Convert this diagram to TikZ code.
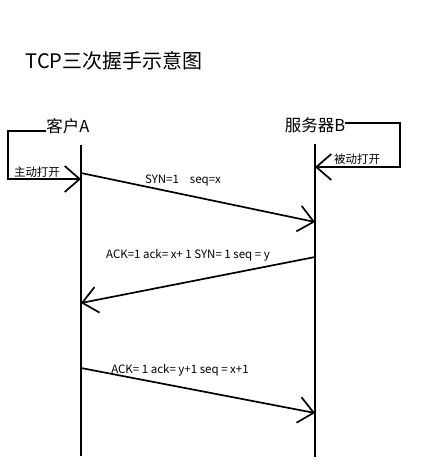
\documentclass[tikz,border=0pt]{standalone}
\usepackage{fontspec}
\setmainfont{Noto Sans CJK SC}
\usetikzlibrary{arrows.meta}

\begin{document}
\begin{tikzpicture}[x=1pt, y=-1pt,
  life/.style = {line width=2.6pt},
  link/.style = {line width=1.7pt, -{Straight Barb[length=15pt,width=26pt,line width=1.7pt]}},
  lbl/.style = {font=\fontsize{11.5}{13}\selectfont, inner sep=0pt},
  who/.style = {font=\fontsize{16.5}{18}\selectfont, inner sep=0pt}]
\useasboundingbox (0,0) rectangle (430,475);
\node (title) at (114,61) {\fontsize{20}{22}\selectfont TCP三次握手示意图};
\node[who] (A) at (68,126) {客户A};
\node[who] (B) at (315,125) {服务器B};
\coordinate (Atop) at (81,145);
\coordinate (Abot) at (81,456);
\coordinate (Btop) at (315,144);
\coordinate (Bbot) at (315,457);
\draw[life] (Atop) -- (Abot);
\draw[life] (Btop) -- (Bbot);
\coordinate (Aopen) at (81,179);
\coordinate (Bopen) at (315,167);
\draw[link] ([yshift=-5pt]A.west) -- (8,131) -- (8,179) -- (Aopen);
\draw[link] ([yshift=2pt]B.east) -- (400,123) -- (400,167) -- (Bopen);
\node[lbl] (actopen) at (37,172) {主动打开};
\node[lbl] (pasopen) at (357,159) {被动打开};
\foreach \n/\ya/\yb in {1/173/222, 2/303/257, 3/368/413}
  {\coordinate (a\n) at (81,\ya);
   \coordinate (b\n) at (315,\yb);};
\draw[link] (a1) -- (b1);
\draw[link] (b2) -- (a2);
\draw[link] (a3) -- (b3);
\node[lbl] (syn) at (183,181) {SYN=1\hspace{11pt}seq=x};
\node[lbl] (synack) at (188,255) {ACK=1 ack= x+ 1 SYN= 1 seq = y};
\node[lbl] (ack) at (180,370) {ACK= 1 ack= y+1 seq = x+1};
\end{tikzpicture}
\end{document}
